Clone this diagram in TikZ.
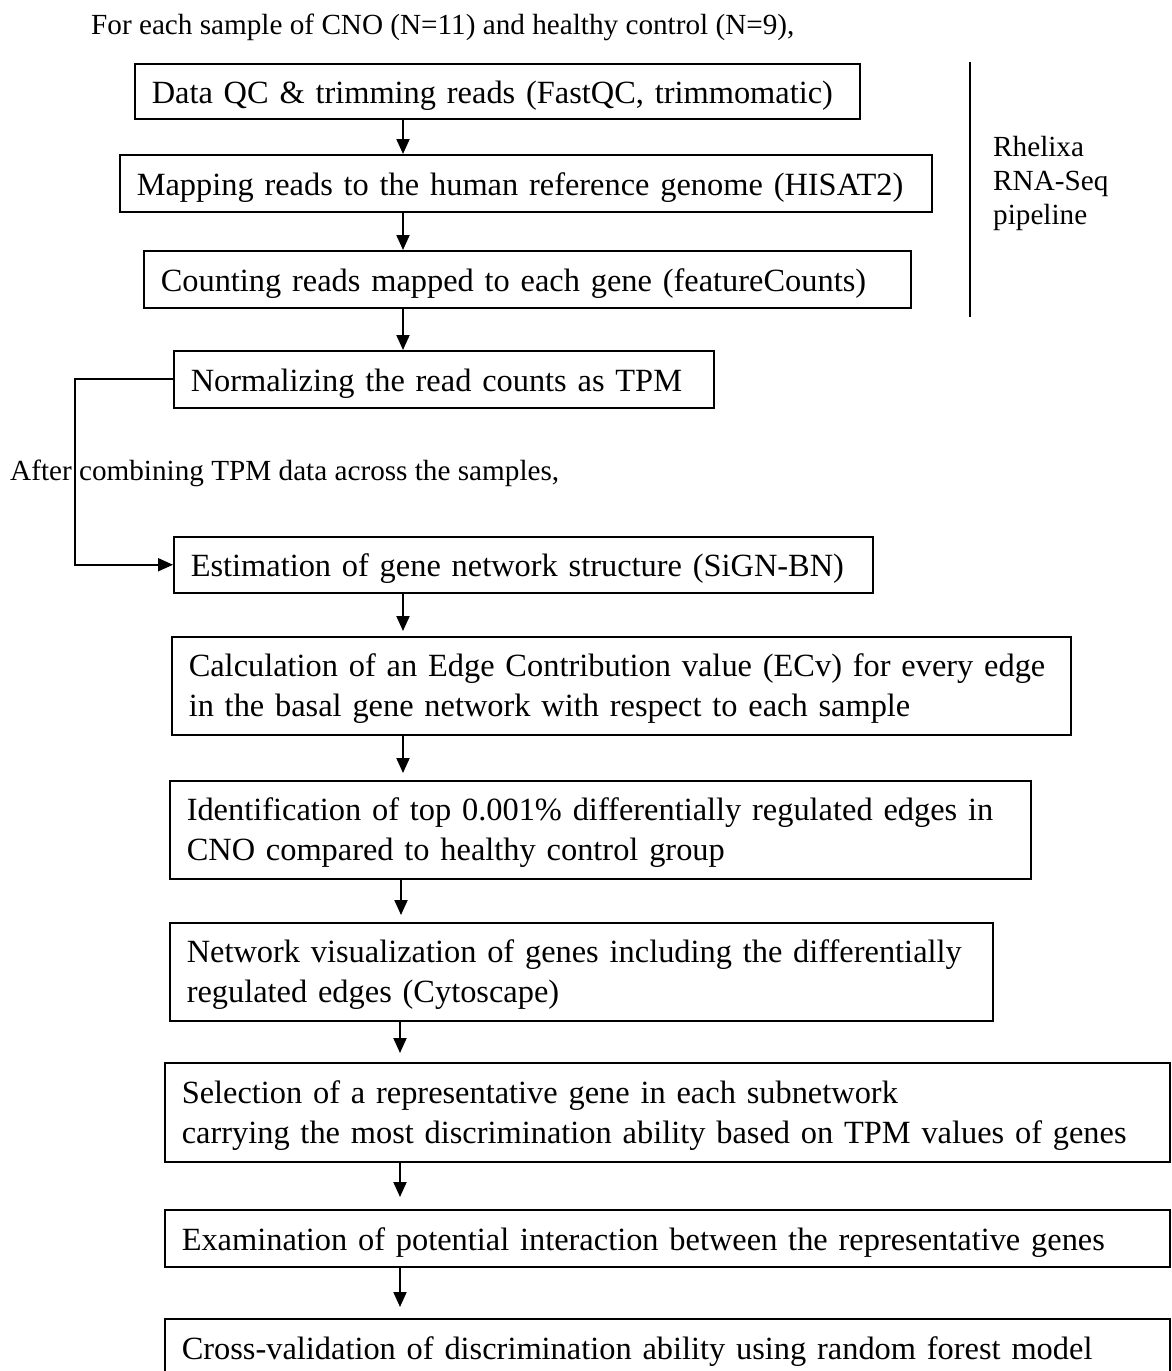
\documentclass[tikz,border=0pt]{standalone}
\usepackage{fontspec}
\setmainfont{Liberation Serif}
\usetikzlibrary{arrows.meta,calc}
\newcommand{\oneline}[1]{\hbox{#1}}
\begin{document}
\begin{tikzpicture}[x=1pt,y=-1pt,
  stepbox/.style={draw, line width=1.5pt, anchor=north west, inner xsep=17pt, inner ysep=0pt,
    align=left, font=\fontsize{32.4}{40}\selectfont, text height=24pt, text depth=0pt},
  twoline/.style={text height=24pt, text depth=42pt},
  flow/.style={line width=2pt, -{Triangle[width=13pt,length=15pt]}},
  note/.style={inner sep=0pt, font=\fontsize{29.2}{34}\selectfont}
]
\useasboundingbox (0,0) rectangle (1171,1371);
\coordinate (xa) at (403,0);
\coordinate (xb) at (400,0);
\coordinate (xc) at (401,0);

\node[note, anchor=base west] (head) at (91,34) {For each sample of CNO (N=11) and healthy control (N=9),};

\node[stepbox, minimum width=725pt, minimum height=55pt, text width=691pt] (b1) at (134,63) {\oneline{Data QC \& trimming reads (FastQC, trimmomatic)}};
\node[stepbox, minimum width=812pt, minimum height=57pt, text width=778pt] (b2) at (119,154) {\oneline{Mapping reads to the human reference genome (HISAT2)}};
\node[stepbox, minimum width=767pt, minimum height=57pt, text width=733pt] (b3) at (143,250) {\oneline{Counting reads mapped to each gene (featureCounts)}};
\node[stepbox, minimum width=540pt, minimum height=57pt, text width=506pt] (b4) at (173,350) {\oneline{Normalizing the read counts as TPM}};
\node[stepbox, minimum width=699pt, minimum height=56pt, text width=665pt] (b5) at (173,536) {\oneline{Estimation of gene network structure (SiGN-BN)}};
\node[stepbox, twoline, minimum width=899pt, minimum height=98pt, text width=865pt] (b6) at (171,636) {\oneline{Calculation of an Edge Contribution value (ECv) for every edge}\\\oneline{in the basal gene network with respect to each sample}};
\node[stepbox, twoline, minimum width=861pt, minimum height=98pt, text width=827pt] (b7) at (169,780) {\oneline{Identification of top 0.001\% differentially regulated edges in}\\\oneline{CNO compared to healthy control group}};
\node[stepbox, twoline, minimum width=823pt, minimum height=98pt, text width=789pt] (b8) at (169,922) {\oneline{Network visualization of genes including the differentially}\\\oneline{regulated edges (Cytoscape)}};
\node[stepbox, twoline, minimum width=1005pt, minimum height=99pt, text width=971pt] (b9) at (164,1062) {\oneline{Selection of a representative gene in each subnetwork}\\\oneline{carrying the most discrimination ability based on TPM values of genes}};
\node[stepbox, minimum width=1005pt, minimum height=57pt, text width=971pt] (b10) at (164,1209) {\oneline{Examination of potential interaction between the representative genes}};
\node[stepbox, minimum width=1005pt, minimum height=57pt, text width=971pt] (b11) at (164,1318) {\oneline{Cross-validation of discrimination ability using random forest model}};

\node[note, anchor=base west] (after) at (10,480) {After combining TPM data across the samples,};

\coordinate (ltop) at (970,62);
\coordinate (lbot) at (970,317);
\draw[line width=2pt] (ltop) -- (lbot);
\node[note, anchor=north west, align=left] (rhel) at (993,136) {Rhelixa\\RNA-Seq\\pipeline};

\draw[flow] (b1.south -| xa) -- (b2.north -| xa);
\draw[flow] (b2.south -| xa) -- (b3.north -| xa);
\draw[flow] (b3.south -| xa) -- (b4.north -| xa);
\draw[flow, shorten >=5pt] (b5.south -| xa) -- (b6.north -| xa);
\draw[flow, shorten >=7pt] (b6.south -| xa) -- (b7.north -| xa);
\draw[flow, shorten >=7pt] (b7.south -| xc) -- (b8.north -| xc);
\draw[flow, shorten >=9pt] (b8.south -| xb) -- (b9.north -| xb);
\draw[flow, shorten >=12pt] (b9.south -| xb) -- (b10.north -| xb);
\draw[flow, shorten >=11pt] (b10.south -| xb) -- (b11.north -| xb);

\coordinate (lx) at (75,0);
\draw[flow] (b4.west) -- (b4.west -| lx) -- (b5.west -| lx) -- (b5.west);
\end{tikzpicture}
\end{document}
